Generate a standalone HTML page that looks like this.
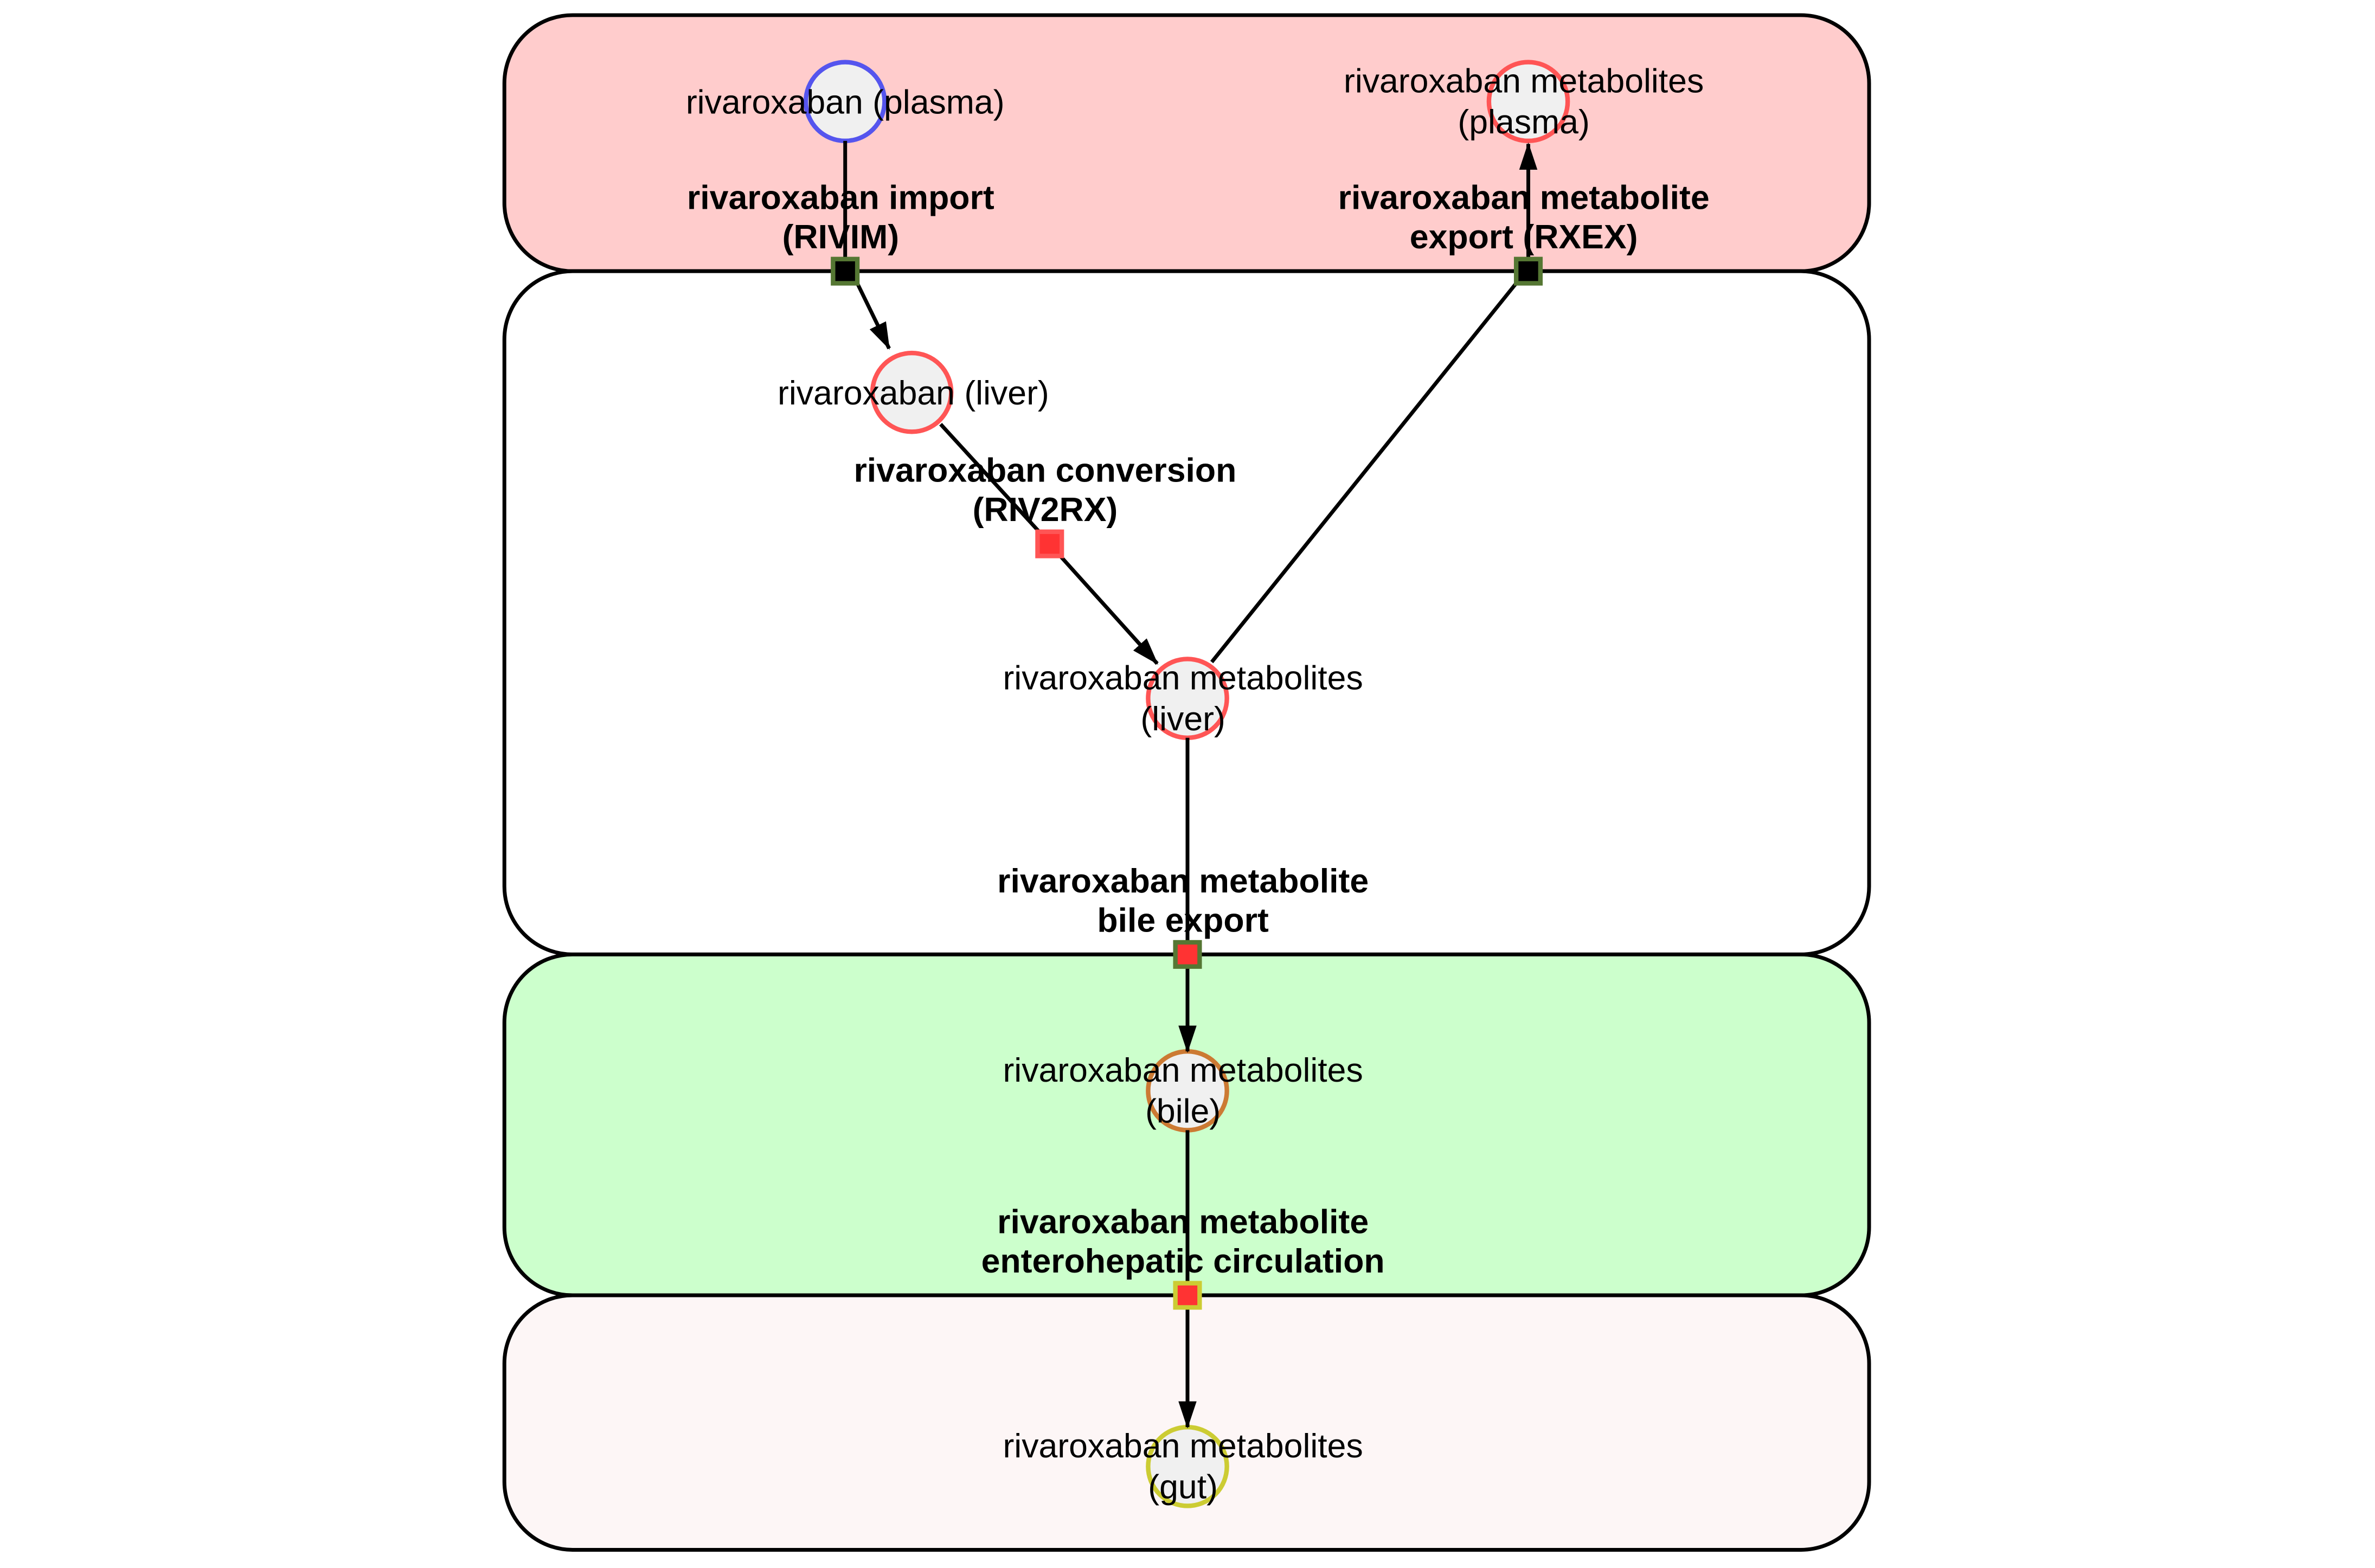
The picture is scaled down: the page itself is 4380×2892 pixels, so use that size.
<!DOCTYPE html>
<html><head><meta charset="utf-8"><style>html,body{margin:0;padding:0;background:#fff}svg{display:block}text{font-family:"Liberation Sans",sans-serif;font-size:22.4px;text-anchor:middle;fill:#000}.b{font-weight:bold}</style></head><body>
<svg width="4380" height="2892" viewBox="0 0 1568 1035" preserveAspectRatio="none" xmlns="http://www.w3.org/2000/svg">
<defs><marker id="ah" markerWidth="18" markerHeight="14" refX="17" refY="7" orient="auto" markerUnits="userSpaceOnUse"><path d="M0,1 L18,7 L0,13 z" fill="#000"/></marker></defs>
<rect x="333" y="10" width="901" height="169" rx="45" fill="#ffcccc" stroke="#000" stroke-width="2.5"/>
<rect x="333" y="855" width="901" height="168" rx="45" fill="#fdf6f6" stroke="#000" stroke-width="2.5"/>
<rect x="333" y="179" width="901" height="451" rx="45" fill="#fff" stroke="#000" stroke-width="2.5"/>
<rect x="333" y="630" width="901" height="225" rx="45" fill="#ccffcc" stroke="#000" stroke-width="2.5"/>
<g fill="#f0f0f0" stroke-width="3">
<circle cx="558" cy="67" r="26" stroke="#5555ee"/>
<circle cx="1009" cy="67" r="26" stroke="#ff5555"/>
<circle cx="602" cy="259" r="26" stroke="#ff5555"/>
<circle cx="784" cy="461" r="26" stroke="#ff5555"/>
<circle cx="784" cy="720" r="26" stroke="#cc7a33"/>
<circle cx="784" cy="968" r="26" stroke="#cccc33"/>
</g>
<g stroke="#000" stroke-width="2.5" fill="none">
<line x1="558" y1="93" x2="558" y2="171"/>
<line x1="566" y1="187" x2="587" y2="230" marker-end="url(#ah)"/>
<line x1="1009" y1="171" x2="1009" y2="95" marker-end="url(#ah)"/>
<line x1="1001" y1="187" x2="800" y2="437"/>
<line x1="621" y1="280" x2="687" y2="352"/>
<line x1="700" y1="367" x2="764" y2="438" marker-end="url(#ah)"/>
<line x1="784" y1="487" x2="784" y2="622"/>
<line x1="784" y1="638" x2="784" y2="694" marker-end="url(#ah)"/>
<line x1="784" y1="746" x2="784" y2="847"/>
<line x1="784" y1="863" x2="784" y2="942" marker-end="url(#ah)"/>
</g>
<g stroke-width="3">
<rect x="550" y="171" width="16" height="16" fill="#000" stroke="#557733"/>
<rect x="1001" y="171" width="16" height="16" fill="#000" stroke="#557733"/>
<rect x="685" y="351" width="16" height="16" fill="#ff3333" stroke="#ff5555"/>
<rect x="776" y="622" width="16" height="16" fill="#ff3333" stroke="#557733"/>
<rect x="776" y="847" width="16" height="16" fill="#ff3333" stroke="#cccc33"/>
</g>
<text x="558" y="75">rivaroxaban (plasma)</text>
<text x="1006" y="61">rivaroxaban metabolites<tspan x="1006" dy="27">(plasma)</tspan></text>
<text x="603" y="267">rivaroxaban (liver)</text>
<text x="781" y="455">rivaroxaban metabolites<tspan x="781" dy="27">(liver)</tspan></text>
<text x="781" y="714">rivaroxaban metabolites<tspan x="781" dy="27">(bile)</tspan></text>
<text x="781" y="962">rivaroxaban metabolites<tspan x="781" dy="27">(gut)</tspan></text>
<text class="b" x="555" y="138">rivaroxaban import<tspan x="555" dy="26">(RIVIM)</tspan></text>
<text class="b" x="1006" y="138">rivaroxaban metabolite<tspan x="1006" dy="26">export (RXEX)</tspan></text>
<text class="b" x="690" y="318">rivaroxaban conversion<tspan x="690" dy="26">(RIV2RX)</tspan></text>
<text class="b" x="781" y="589">rivaroxaban metabolite<tspan x="781" dy="26">bile export</tspan></text>
<text class="b" x="781" y="814">rivaroxaban metabolite<tspan x="781" dy="26">enterohepatic circulation</tspan></text>
</svg>
</body></html>
